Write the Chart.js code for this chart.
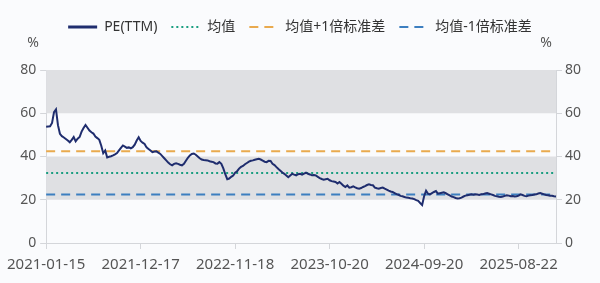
<!DOCTYPE html>
<html>
<head>
<meta charset="utf-8">
<script src="https://cdn.jsdelivr.net/npm/chart.js@4.4.1/dist/chart.umd.min.js"></script>
<style>
  html, body { margin: 0; padding: 0; background: #fafbfd; }
  #wrap { width: 600px; height: 283px; position: relative; }
</style>
</head>
<body>
<div id="wrap"><canvas id="peChart"></canvas></div>
<script>
// weekly PE(TTM)
const startDate = '2021-01-15';
const tickLabels = ['2021-01-15', '2021-12-17', '2022-11-18', '2023-10-20', '2024-09-20', '2025-08-22'];
const peValues = [
    53.8, 53.9, 54.0, 55.5, 60.5, 61.8, 54.5, 50.5, 49.4, 48.8,
    48.1, 47.4, 46.6, 47.7, 49.0, 47.0, 48.2, 49.0, 51.5, 53.2,
    54.6, 53.3, 52.0, 51.2, 50.6, 49.2, 48.5, 47.7, 45.0, 41.5,
    42.8, 39.6, 39.9, 40.1, 40.5, 41.0, 41.6, 42.8, 44.0, 45.1,
    44.6, 44.0, 44.2, 43.8, 44.3, 45.5, 47.4, 48.9, 47.2, 46.4,
    45.8, 44.2, 43.5, 42.8, 42.0, 42.3, 42.4, 41.8, 41.2, 40.2,
    39.2, 38.2, 37.2, 36.4, 35.9, 36.6, 36.9, 36.6, 36.2, 35.9,
    36.6, 38.0, 39.4, 40.5, 41.2, 41.4, 40.8, 40.0, 39.2, 38.6,
    38.4, 38.3, 38.2, 37.8, 37.6, 37.4, 36.8, 36.7, 37.4, 36.6,
    34.5, 31.8, 29.5, 29.8, 30.6, 31.2, 32.5, 33.2, 34.4, 35.2,
    35.6, 36.4, 37.0, 37.6, 38.0, 38.2, 38.5, 38.7, 38.9, 38.6,
    38.1, 37.6, 37.4, 38.0, 37.9, 36.6, 36.0, 35.1, 34.2, 33.4,
    32.6, 32.0, 31.2, 30.4, 31.2, 32.0, 31.6, 31.3, 31.8, 32.0,
    31.6, 32.1, 32.5, 32.0, 31.7, 31.3, 31.4, 31.2, 30.6, 30.0,
    29.6, 29.3, 29.5, 29.7, 29.0, 28.6, 28.4, 28.2, 27.5, 28.2,
    27.4, 26.5, 25.9, 26.6, 25.6, 25.8, 26.2, 25.7, 25.3, 25.1,
    25.4, 25.9, 26.3, 26.8, 27.1, 26.8, 26.7, 25.6, 25.3, 25.1,
    25.4, 25.6, 25.1, 24.7, 24.2, 23.8, 23.6, 23.1, 22.6, 22.3,
    21.8, 21.6, 21.3, 21.0, 20.9, 20.7, 20.6, 20.3, 19.8, 19.5,
    18.5, 17.6, 21.6, 24.2, 22.8, 22.5, 23.1, 23.6, 24.0, 22.8,
    23.0, 23.2, 23.4, 23.0, 22.5, 22.0, 21.5, 21.2, 20.8, 20.6,
    20.7, 21.0, 21.5, 21.9, 22.1, 22.3, 22.5, 22.3, 22.5, 22.4,
    22.2, 22.5, 22.6, 22.9, 23.1, 22.8, 22.5, 22.2, 21.8, 21.6,
    21.4, 21.3, 21.5, 21.8, 22.1, 21.9, 21.6, 21.7, 21.5, 21.6,
    21.9, 22.5, 22.2, 21.8, 21.6, 21.9, 22.1, 22.2, 22.4, 22.5,
    22.9, 23.1, 22.8, 22.5, 22.2, 22.1, 21.9, 21.8, 21.6, 21.5
];
const meanValue = 32.4;
const stdValue = 10.0;
const yTicks = [0, 20, 40, 60, 80];
const shadedBands = [[20, 40], [60, 80]];

// one label per week
const weekLabels = [];
const d0 = new Date(startDate + 'T00:00:00Z');
for (let i = 0; i < peValues.length; i++) {
    const d = new Date(d0.getTime() + i * 7 * 86400000);
    weekLabels.push(d.toISOString().slice(0, 10));
}

const fontFamily = '"Noto Sans", "Noto Sans CJK SC", sans-serif';
const textColor = '#555555';
const axisColor = '#d4d6da';

// grey bands behind the line
const bandsPlugin = {
    id: 'bands',
    beforeDatasetsDraw(chart) {
        const { ctx, chartArea, scales } = chart;
        ctx.save();
        ctx.fillStyle = '#dfe0e3';
        shadedBands.forEach(([lo, hi]) => {
            const yTop = scales.y.getPixelForValue(hi);
            const yBot = scales.y.getPixelForValue(lo);
            ctx.fillRect(chartArea.left, yTop, chartArea.right - chartArea.left, yBot - yTop);
        });
        ctx.restore();
    }
};

// "%" units above both axes
const unitPlugin = {
    id: 'units',
    afterDraw(chart) {
        const { ctx } = chart;
        ctx.save();
        ctx.font = '14px ' + fontFamily;
        ctx.fillStyle = textColor;
        ctx.textAlign = 'center';
        ctx.textBaseline = 'middle';
        ctx.fillText('%', 33, 43);
        ctx.fillText('%', 546, 43);
        ctx.restore();
    }
};

// extra room under the legend
const legendGap = {
    id: 'legendGap',
    beforeInit(chart) {
        const origFit = chart.legend.fit;
        chart.legend.fit = function() {
            origFit.bind(chart.legend)();
            this.height += 26;
        };
    }
};

const tickSet = new Set(tickLabels);

new Chart(document.getElementById('peChart'), {
    type: 'line',
    data: {
        labels: weekLabels,
        datasets: [{
            label: 'PE(TTM)',
            data: peValues,
            borderColor: '#1f2d6e',
            backgroundColor: '#1f2d6e',
            borderWidth: 2,
            pointRadius: 0,
            tension: 0
        }, {
            label: '均值',
            data: weekLabels.map(() => meanValue),
            borderColor: '#1a9e80',
            backgroundColor: '#1a9e80',
            borderWidth: 2,
            borderDash: [2, 3],
            pointRadius: 0
        }, {
            label: '均值+1倍标准差',
            data: weekLabels.map(() => meanValue + stdValue),
            borderColor: '#e9aa4e',
            backgroundColor: '#e9aa4e',
            borderWidth: 2,
            borderDash: [9, 6],
            pointRadius: 0
        }, {
            label: '均值-1倍标准差',
            data: weekLabels.map(() => meanValue - stdValue),
            borderColor: '#3d7fc0',
            backgroundColor: '#3d7fc0',
            borderWidth: 2,
            borderDash: [9, 6],
            pointRadius: 0
        }]
    },
    options: {
        responsive: true,
        maintainAspectRatio: false,
        animation: false,
        layout: { padding: { top: 6, left: 0, right: 0, bottom: 0 } },
        scales: {
            x: {
                type: 'category',
                afterFit(scale) { scale.height = 40; },
                border: { display: true, color: axisColor },
                grid: {
                    drawOnChartArea: false,
                    drawTicks: true,
                    tickLength: 6,
                    color: (c) => (c.tick && tickSet.has(c.tick.label)) ? axisColor : 'rgba(0,0,0,0)'
                },
                ticks: {
                    autoSkip: false,
                    maxRotation: 0,
                    minRotation: 0,
                    padding: 7,
                    color: textColor,
                    font: { family: fontFamily, size: 15 },
                    callback(value, index) {
                        const lab = weekLabels[index];
                        return tickSet.has(lab) ? lab : '';
                    }
                }
            },
            y: {
                position: 'left',
                min: 0,
                max: 80,
                afterFit(scale) { scale.width = 46; },
                afterBuildTicks(scale) { scale.ticks = yTicks.map(v => ({ value: v })); },
                border: { display: true, color: axisColor },
                grid: { drawOnChartArea: false, tickLength: 6, color: axisColor },
                ticks: {
                    padding: 4,
                    color: textColor,
                    font: { family: fontFamily, size: 14 }
                }
            },
            y2: {
                position: 'right',
                min: 0,
                max: 80,
                afterFit(scale) { scale.width = 44; },
                afterBuildTicks(scale) { scale.ticks = yTicks.map(v => ({ value: v })); },
                border: { display: true, color: axisColor },
                grid: { drawOnChartArea: false, tickLength: 6, color: axisColor },
                ticks: {
                    padding: 3,
                    color: textColor,
                    font: { family: fontFamily, size: 14 }
                }
            }
        },
        plugins: {
            legend: {
                position: 'top',
                labels: {
                    usePointStyle: true,
                    pointStyle: 'line',
                    pointStyleWidth: 29,
                    padding: 14,
                    color: '#333333',
                    font: { family: fontFamily, size: 14 },
                    generateLabels(chart) {
                        return chart.data.datasets.map((ds, i) => ({
                            text: ds.label,
                            strokeStyle: ds.borderColor,
                            fillStyle: ds.borderColor,
                            lineWidth: ds.borderWidth + (i === 0 ? 1 : 0),
                            lineDash: ds.borderDash || [],
                            pointStyle: 'line',
                            fontColor: '#333333',
                            datasetIndex: i,
                            hidden: false
                        }));
                    }
                }
            },
            tooltip: { enabled: false }
        }
    },
    plugins: [bandsPlugin, unitPlugin, legendGap]
});
</script>
</body>
</html>
